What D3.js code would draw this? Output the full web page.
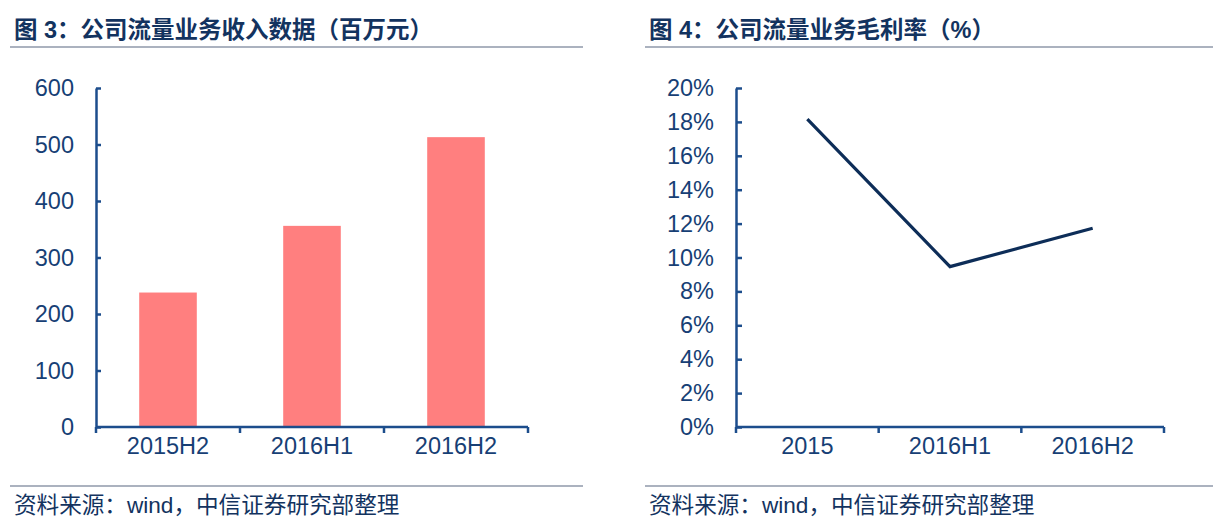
<!DOCTYPE html>
<html>
  <head>
    <meta charset="utf-8">
    <title>公司流量业务</title>
    <style>
      body { margin: 0; padding: 0; background: #fff; overflow: hidden; }
      svg { display: block; }
      text { font-family: "Liberation Sans", Arial, "Noto Sans CJK SC", sans-serif; }
      .cjk { font-family: "Liberation Sans", "Noto Sans CJK SC", sans-serif; }
    </style>
    <script src="https://unpkg.com/d3@7.8.5/dist/d3.min.js"></script>
  </head>
  <body>
    <svg width="1224" height="528"></svg>
    <script>
      // 图3 数据
      const revCategories = ['2015H2', '2016H1', '2016H2'];
      const revValues = [238, 356, 513];
      const revTicks = [0, 100, 200, 300, 400, 500, 600];

      // 图4 数据
      const marginCategories = ['2015', '2016H1', '2016H2'];
      const marginValues = [0.1817, 0.0946, 0.1173];
      const marginTicks = [0, 0.02, 0.04, 0.06, 0.08, 0.10, 0.12, 0.14, 0.16, 0.18, 0.20];

      const svg = d3.select('svg');
      const axisColor = '#1c4d8c';
      const labelColor = '#173f75';
      const titleColor = '#13335f';
      const ruleColor = '#8f98aa';

      // 标题、分隔线和来源
      function panelFrame(x0, x1, title) {
        svg.append('text')
          .attr('class', 'cjk')
          .attr('x', x0 + 4)
          .attr('y', 38)
          .attr('fill', titleColor)
          .attr('font-size', 23.5)
          .attr('font-weight', 'bold')
          .text(title);
        svg.append('line')
          .attr('x1', x0).attr('x2', x1)
          .attr('y1', 47).attr('y2', 47)
          .attr('stroke', ruleColor).attr('stroke-width', 1.5);
        svg.append('line')
          .attr('x1', x0).attr('x2', x1)
          .attr('y1', 486).attr('y2', 486)
          .attr('stroke', ruleColor).attr('stroke-width', 1.5);
        svg.append('text')
          .attr('class', 'cjk')
          .attr('x', x0 + 4)
          .attr('y', 513)
          .attr('fill', titleColor)
          .attr('font-size', 22.6)
          .text('资料来源：wind，中信证券研究部整理');
      }

      panelFrame(10, 583, '图 3：公司流量业务收入数据（百万元）');
      panelFrame(645, 1213, '图 4：公司流量业务毛利率（%）');

      // 坐标轴样式
      function styleAxis(g) {
        g.select('.domain').attr('stroke', axisColor).attr('stroke-width', 2.5);
        g.selectAll('.tick line').attr('stroke', axisColor).attr('stroke-width', 2.5);
        g.selectAll('.tick text')
          .attr('fill', labelColor)
          .attr('font-size', 23.5)
          .attr('font-family', '"Liberation Sans", Arial, sans-serif');
      }

      function xAxisWithBoundaries(x, y0) {
        const g = svg.append('g').attr('transform', `translate(0,${y0})`);
        g.call(d3.axisBottom(x).tickSize(0).tickPadding(10))
          .call(styleAxis);
        g.select('.domain').remove();
        const [r0, r1] = x.range();
        g.append('line')
          .attr('x1', r0).attr('x2', r1)
          .attr('stroke', axisColor).attr('stroke-width', 2.5);
        const bounds = d3.range(x.domain().length + 1).map(i => r0 + i * x.step());
        g.selectAll('line.bound')
          .data(bounds)
          .enter().append('line')
          .attr('class', 'bound')
          .attr('x1', d => d).attr('x2', d => d)
          .attr('y1', 0).attr('y2', 6)
          .attr('stroke', axisColor).attr('stroke-width', 2.5);
      }

      // 图3：柱状图
      const x1 = d3.scaleBand().domain(revCategories).range([96, 528]).paddingInner(0.6).paddingOuter(0.3);
      const y1 = d3.scaleLinear().domain([0, 600]).range([427, 88]);

      svg.append('g').selectAll('rect')
        .data(revValues)
        .enter().append('rect')
        .attr('x', (d, i) => x1(revCategories[i]))
        .attr('y', d => y1(d))
        .attr('width', x1.bandwidth())
        .attr('height', d => y1(0) - y1(d))
        .attr('fill', '#ff7f7f');

      svg.append('g')
        .attr('transform', 'translate(96,0)')
        .call(d3.axisLeft(y1).tickValues(revTicks).tickSizeInner(-5).tickSizeOuter(0).tickPadding(22))
        .call(styleAxis);

      const x1b = d3.scaleBand().domain(revCategories).range([96, 528]);
      xAxisWithBoundaries(x1b, 427);

      // 图4：折线图
      const x2 = d3.scaleBand().domain(marginCategories).range([736, 1164]);
      const y2 = d3.scaleLinear().domain([0, 0.20]).range([427, 88]);

      svg.append('g')
        .attr('transform', 'translate(736,0)')
        .call(d3.axisLeft(y2).tickValues(marginTicks).tickFormat(d3.format('.0%')).tickSizeInner(-6).tickSizeOuter(0).tickPadding(22))
        .call(styleAxis);

      xAxisWithBoundaries(x2, 427);

      const line = d3.line()
        .x((d, i) => x2(marginCategories[i]) + x2.bandwidth() / 2)
        .y(d => y2(d));

      svg.append('path')
        .datum(marginValues)
        .attr('d', line)
        .attr('fill', 'none')
        .attr('stroke', '#0d2d58')
        .attr('stroke-width', 3.2);
    </script>
  </body>
</html>
